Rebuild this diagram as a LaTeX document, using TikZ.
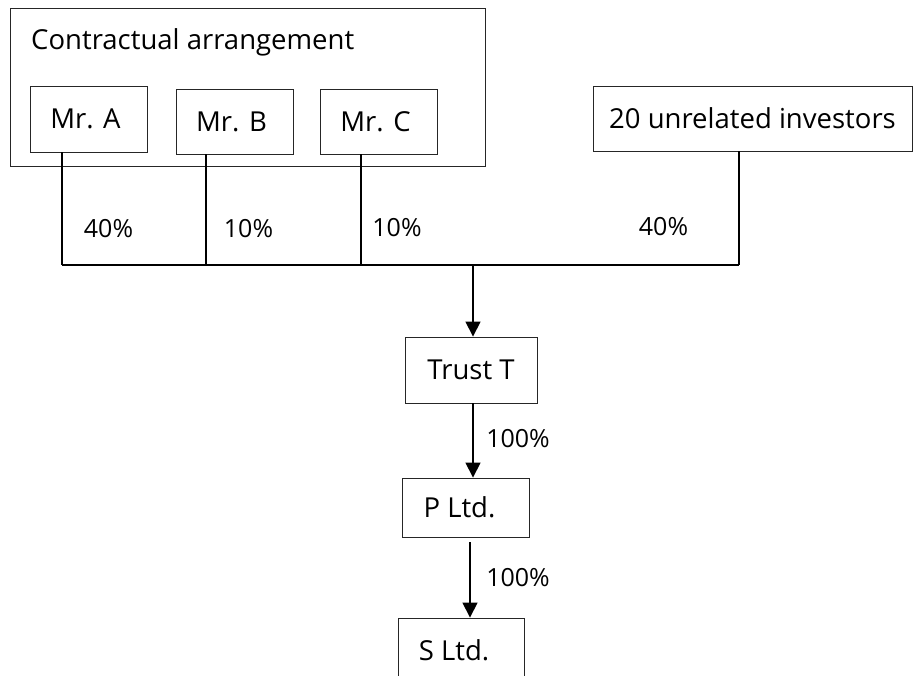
\documentclass[tikz,border=0pt]{standalone}
\usepackage{fontspec}
\setmainfont{Open Sans}
\usetikzlibrary{arrows.meta}
\begin{document}
\begin{tikzpicture}[x=1pt,y=-1pt,
  box/.style={draw=black!85,line width=0.9pt,rectangle,inner sep=0pt,
    font=\fontsize{27.5}{31}\selectfont},
  conn/.style={draw=black,line width=1.6pt},
  arr/.style={conn,-{Triangle[length=15pt,width=15pt]}},
  lbl/.style={inner sep=0pt,font=\fontsize{25}{29}\selectfont}]
\useasboundingbox (0,0) rectangle (913,676);
\clip (0,0) rectangle (913,676);
% boxes
\node[box,minimum width=475pt,minimum height=158pt] (outer) at (247.5,87) {};
\node[inner sep=0pt,anchor=base west,font=\fontsize{27.5}{31}\selectfont] (title) at (31,50) {Contractual arrangement};
\node[box,minimum width=117pt,minimum height=66pt] (mra) at (88.5,119) {Mr. A\hspace*{6pt}};
\node[box,minimum width=117pt,minimum height=65pt] (mrb) at (234.5,121.5) {Mr. B\hspace*{6pt}};
\node[box,minimum width=117pt,minimum height=65pt] (mrc) at (378.5,121.5) {Mr. C\hspace*{6pt}};
\node[box,minimum width=319pt,minimum height=65pt] (inv) at (752.5,118.5) {20 unrelated investors};
\node[box,minimum width=132pt,minimum height=66pt] (trust) at (471,370) {Trust T};
\node[box,minimum width=127pt,minimum height=59pt] (pltd) at (465.5,507.5) {P Ltd.\hspace*{12pt}};
\node[box,minimum width=126pt,minimum height=64pt] (sltd) at (461,650) {S Ltd.\hspace*{14pt}};
% bus coordinates
\coordinate (ja) at (62,265);
\coordinate (jb) at (206,265);
\coordinate (jc) at (361,265);
\coordinate (jd) at (739,265);
\coordinate (jt) at (473,265);
\coordinate (jp) at (470,542);
% connectors
\draw[conn] (mra.south -| ja) -- (ja);
\draw[conn] (mrb.south -| jb) -- (jb);
\draw[conn] (mrc.south -| jc) -- (jc);
\draw[conn] (inv.south -| jd) -- (jd);
\draw[conn] (ja) -- (jd);
\draw[arr] (jt) -- (trust.north -| jt);
\draw[arr] (trust.south -| jt) -- (pltd.north -| jt);
\draw[arr] (jp) -- (sltd.north -| jp);
% labels
\node[lbl] (l1) at (108.5,229) {40\%};
\node[lbl] (l2) at (248.5,229) {10\%};
\node[lbl] (l3) at (397,228) {10\%};
\node[lbl] (l4) at (663.5,227) {40\%};
\node[lbl] (l5) at (518,439) {100\%};
\node[lbl] (l6) at (518,578) {100\%};
\end{tikzpicture}
\end{document}
